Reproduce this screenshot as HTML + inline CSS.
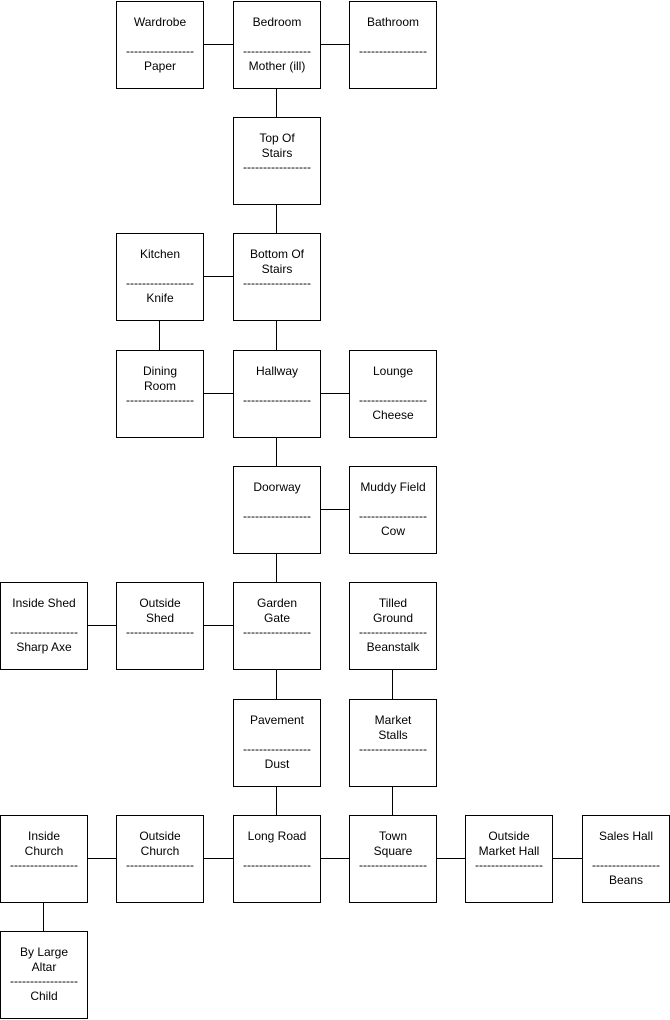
<!DOCTYPE html>
<html><head><meta charset="utf-8"><style>
body{margin:0;width:670px;height:1020px;background:#fff;position:relative;overflow:hidden;font-family:"Liberation Sans",Arial,sans-serif;font-size:12px;color:#000}
.b{position:absolute;width:86px;height:86px;border:1px solid #000;background:#fff}
.t{position:absolute;left:0;width:86px;text-align:center;line-height:15px;white-space:nowrap}
.h{position:absolute;height:1px;background:#000}
.v{position:absolute;width:1px;background:#000}
</style></head><body>
<div id="c"></div>
<script>
const cols=[0,116,233,349,465,582],rows=[1,117,233,350,466,582,699,815,931];
const boxes=[
[1,0,["Wardrobe"],"Paper"],[2,0,["Bedroom"],"Mother (ill)"],[3,0,["Bathroom"],""],
[2,1,["Top Of","Stairs"],""],
[1,2,["Kitchen"],"Knife"],[2,2,["Bottom Of","Stairs"],""],
[1,3,["Dining","Room"],""],[2,3,["Hallway"],""],[3,3,["Lounge"],"Cheese"],
[2,4,["Doorway"],""],[3,4,["Muddy Field"],"Cow"],
[0,5,["Inside Shed"],"Sharp Axe"],[1,5,["Outside","Shed"],""],[2,5,["Garden","Gate"],""],[3,5,["Tilled","Ground"],"Beanstalk"],
[2,6,["Pavement"],"Dust"],[3,6,["Market","Stalls"],""],
[0,7,["Inside","Church"],""],[1,7,["Outside","Church"],""],[2,7,["Long Road"],""],[3,7,["Town","Square"],""],[4,7,["Outside","Market Hall"],""],[5,7,["Sales Hall"],"Beans"],
[0,8,["By Large","Altar"],"Child"]];
let h="";
const hl=[[1,2,0],[2,3,0],[1,2,2],[1,2,3],[2,3,3],[2,3,4],[0,1,5],[1,2,5],[0,1,7],[1,2,7],[2,3,7],[3,4,7],[4,5,7]];
const vl=[[2,0,1],[2,1,2],[1,2,3],[2,2,3],[2,3,4],[2,4,5],[3,5,6],[2,5,6],[2,6,7],[3,6,7],[0,7,8]];
hl.forEach(([a,b,r])=>{h+=`<div class="h" style="left:${cols[a]+87}px;top:${rows[r]+43}px;width:${cols[b]-cols[a]-87}px"></div>`});
vl.forEach(([c,a,b])=>{h+=`<div class="v" style="left:${cols[c]+43}px;top:${rows[a]+87}px;height:${rows[b]-rows[a]-87}px"></div>`});
boxes.forEach(([c,r,t,i])=>{
 let s=`<div class="b" style="left:${cols[c]}px;top:${rows[r]}px">`;
 t.forEach((x,k)=>{s+=`<div class="t" style="top:${13+15*k}px">${x}</div>`});
 s+=`<div class="t" style="top:42px">-----------------</div>`;
 if(i)s+=`<div class="t" style="top:57px">${i}</div>`;
 h+=s+"</div>";
});
document.getElementById("c").innerHTML=h;
</script>
</body></html>
